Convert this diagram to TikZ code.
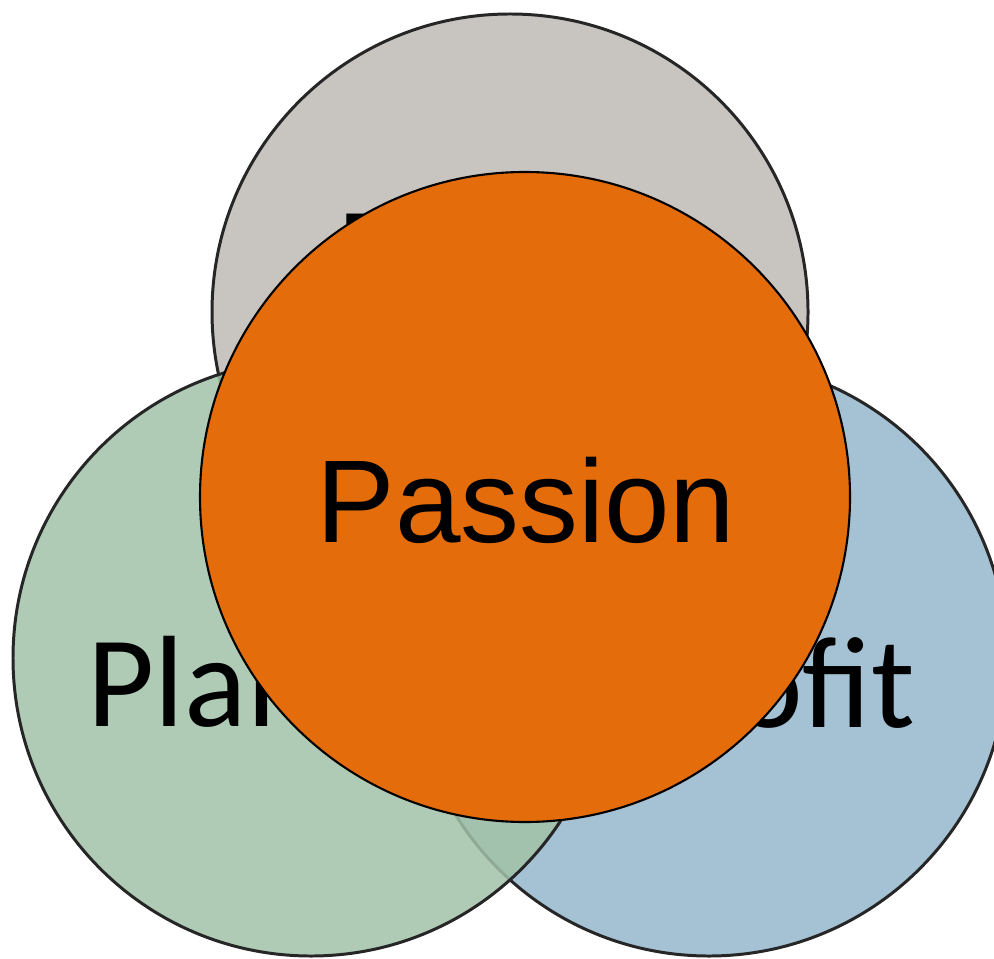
\documentclass[tikz,border=0pt]{standalone}
\usepackage{fontspec}
\setmainfont{Carlito}
\newfontfamily\passionfont{Liberation Sans}
\usepackage{tikz}
\definecolor{peoplegrey}{RGB}{200,197,193}
\definecolor{planetgreen}{RGB}{162,194,168}
\definecolor{profitblue}{RGB}{164,194,212}
\definecolor{passionorange}{RGB}{228,108,10}
\tikzset{
  ring/.style={line width=0.85pt, draw=black!85},
  word/.style={font=\fontsize{37}{40}\selectfont, text=black, inner sep=0pt}
}

\begin{document}
\begin{tikzpicture}
			%%%%% START %%%%%
			\useasboundingbox (0, 0) rectangle (9.94, 9.58);
			\clip (0, 0) rectangle (9.94, 9.58);
			
			\draw[ring, fill=peoplegrey] (5.10, 6.46) circle (2.98);
			\node[word, anchor=base west] (people) at (3.37, 6.60) {People};
			
			\draw[ring, fill=profitblue] (7.09, 3.00) circle (2.98);
			\node[word, anchor=base east] (profit) at (9.16, 2.31) {Profit};
			
			\draw[ring, fill=planetgreen, fill opacity=0.85] (3.11, 3.00) circle (2.98);
			\node[word, anchor=base west] (planet) at (0.87, 2.32) {Planet};
			
			\draw[line width=0.6pt, fill=passionorange] (5.25, 4.61) circle (3.25);
			\node[inner sep=0pt, font=\passionfont\fontsize{33.5}{36}\selectfont] (passion) at (5.26, 4.58) {Passion};
			
			%%%%% END %%%%%
		\end{tikzpicture}
\end{document}
